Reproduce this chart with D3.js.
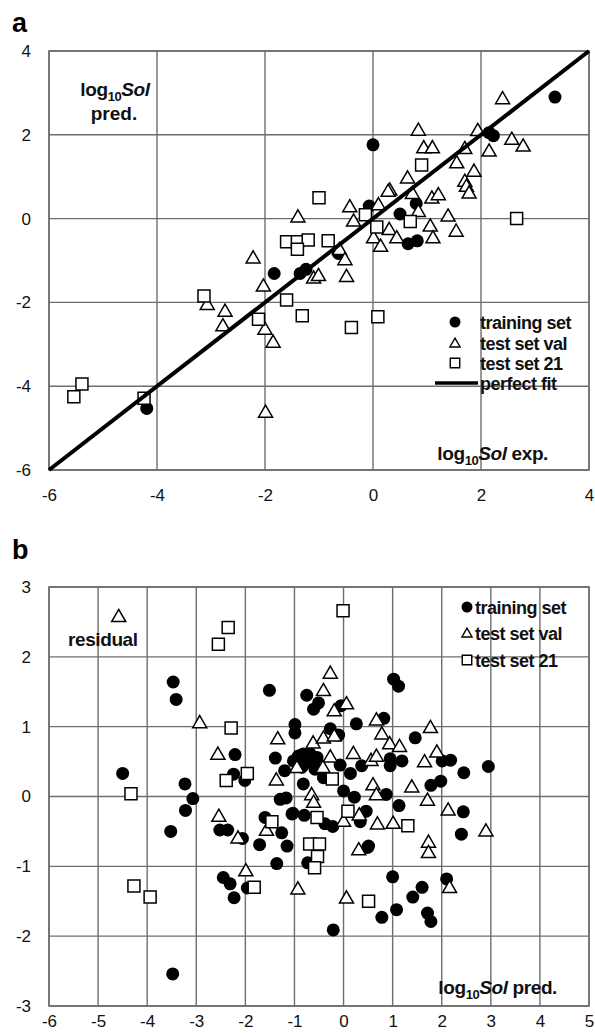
<!DOCTYPE html>
<html>
<head>
<meta charset="utf-8">
<script src="https://cdn.jsdelivr.net/npm/d3@7"></script>
<style>
  html, body { margin: 0; padding: 0; background: #fff; }
  svg { display: block; }
  text { font-family: "Liberation Sans", Arial, sans-serif; }
</style>
</head>
<body>
<svg id="chart" width="595" height="1033"></svg>
<script>
// ---------- Panel a data: log10Sol exp. (x) vs log10Sol pred. (y) ----------
const aTrainX = [3.37, 0.0, 2.23, 2.15, -0.07, 0.5, 0.8, 0.65, 0.82, -0.64, -1.35, -1.24, -1.83, -4.19];
const aTrainY = [2.9, 1.76, 1.98, 2.05, 0.3, 0.11, 0.36, -0.6, -0.53, -0.83, -1.31, -1.21, -1.31, -4.53];

const aValX = [2.40, 0.84, 1.94, 0.94, 1.10, 2.57, 2.78, 2.15, 1.70, 1.55, 1.87, 1.70, 1.73, 1.78, 0.64, 0.31, 0.73, 1.09, 1.21, -0.43, 0.10, -0.36, 0.84, 1.39, 1.54, 1.06, 1.11, 0.30, 0.44, 0.01, 0.14, -0.62, -1.39, -2.22, -2.03, 0.28, -0.52, -0.49, -1.10, -1.01, -2.74, -2.0, -2.78, -3.07, -1.85, -1.99];
const aValY = [2.85, 2.10, 2.09, 1.68, 1.68, 1.88, 1.72, 1.60, 1.66, 1.32, 1.12, 0.88, 0.76, 0.60, 0.96, 0.67, 0.59, 0.48, 0.56, 0.27, 0.32, -0.07, 0.16, 0.05, -0.31, -0.19, -0.47, -0.27, -0.47, -0.47, -0.67, -0.75, 0.03, -0.95, -1.62, 0.64, -0.99, -1.39, -1.43, -1.37, -2.22, -2.65, -2.57, -2.06, -2.96, -4.63];

const a21X = [0.90, 2.66, 0.69, 0.07, -0.14, -1.0, -1.6, -1.40, -1.2, -1.40, -0.83, -1.6, -1.31, -0.40, 0.09, -2.12, -3.13, -5.39, -5.54, -4.24];
const a21Y = [1.28, 0.0, -0.07, -0.2, 0.09, 0.5, -0.55, -0.55, -0.51, -0.73, -0.53, -1.94, -2.32, -2.6, -2.34, -2.40, -1.85, -3.95, -4.25, -4.29];

const aFitX = [-6, 4];
const aFitY = [-6, 4];
const aTicks = [-6, -4, -2, 0, 2, 4];

// ---------- Panel b data: log10Sol pred. (x) vs residual (y) ----------
const bTrainX = [-4.5, -3.47, -3.41, -3.23, -3.07, -3.22, -3.52, -3.48, -2.21, -2.24, -2.01, -2.52, -2.36, -2.06, -1.71, -2.45, -2.31, -2.23, -1.96, -1.51, -1.39, -1.2, -1.02, -1.29, -1.17, -1.03, -1.6, -1.26, -1.15, -1.36, -0.99, -0.99, -0.75, -0.61, -0.51, -0.05, 0.26, -0.27, -0.1, -0.92, -0.82, -0.68, -0.54, -0.75, -0.61, -0.85, -0.58, -0.07, 0.14, 0.37, -0.41, -0.82, 0.0, 0.22, -1.05, -0.8, -0.38, -0.22, 0.34, 0.46, 0.51, -0.73, 0.82, 1.46, 1.02, 1.12, 2.01, 2.18, 2.45, 2.95, 1.78, 1.98, 0.95, 1.19, 0.95, 0.87, 1.13, 2.44, 2.4, 0.49, 1.0, 2.1, 1.6, 1.41, 1.08, 0.78, 1.71, 1.78, -0.21];
const bTrainY = [0.33, 1.64, 1.39, 0.18, -0.03, -0.2, -0.5, -2.54, 0.6, 0.32, 0.23, -0.48, -0.48, -0.6, -0.69, -1.16, -1.25, -1.45, -1.31, 1.52, 0.55, 0.37, 0.51, -0.04, -0.02, -0.24, -0.3, -0.52, -0.71, -0.96, 1.03, 0.91, 1.45, 1.25, 1.34, 1.3, 1.04, 0.97, 0.88, 0.58, 0.61, 0.61, 0.56, 0.49, 0.46, 0.42, 0.39, 0.45, 0.33, 0.44, 0.27, 0.18, 0.08, -0.01, -0.25, -0.27, -0.39, -0.43, -0.36, -0.21, -0.71, -0.95, 1.12, 0.84, 1.68, 1.58, 0.51, 0.52, 0.34, 0.43, 0.16, 0.22, 0.54, 0.51, 0.44, 0.03, -0.13, -0.22, -0.54, -0.73, -1.15, -1.18, -1.3, -1.44, -1.62, -1.73, -1.67, -1.79, -1.91];

const bValX = [-4.58, -2.93, -1.34, -2.56, -2.54, -2.15, -1.99, -1.57, -1.37, -0.93, -0.27, -0.41, -0.19, 0.06, 0.67, -0.62, -0.41, -0.19, 0.2, -0.27, 0.56, 0.67, -0.95, -0.42, -0.65, -0.61, 0.0, 0.32, 0.31, 0.06, 0.6, 0.67, 0.69, 1.77, 0.78, 0.94, 1.14, 1.9, 1.65, 1.39, 1.71, 2.13, 2.9, 1.01, 1.73, 1.73, 2.16];
const bValY = [2.57, 1.05, 0.82, 0.6, -0.29, -0.6, -1.07, -0.49, 0.23, -1.33, 1.76, 1.51, 1.22, 1.32, 1.09, 0.76, 0.83, 0.86, 0.61, 0.56, 0.51, 0.57, 0.41, 0.41, 0.02, -0.09, -0.36, -0.27, -0.77, -1.46, 0.16, 0.02, -0.4, 0.98, 0.89, 0.75, 0.71, 0.63, 0.49, 0.13, -0.06, -0.2, -0.5, -0.39, -0.66, -0.81, -1.31];

const b21X = [-2.55, -2.35, -2.29, -4.33, -4.27, -3.94, -2.39, -1.96, -1.82, -1.46, -0.01, -0.23, -0.54, 0.09, -0.69, -0.49, -0.53, -0.59, 0.51, 1.31];
const b21Y = [2.18, 2.42, 0.98, 0.04, -1.28, -1.44, 0.23, 0.33, -1.3, -0.36, 2.66, 0.25, -0.3, -0.21, -0.68, -0.68, -0.86, -1.02, -1.5, -0.42];

const bXTicks = [-6, -5, -4, -3, -2, -1, 0, 1, 2, 3, 4, 5];
const bYTicks = [-3, -2, -1, 0, 1, 2, 3];

const legendA = ["training set", "test set val", "test set 21", "perfect fit"];
const legendB = ["training set", "test set val", "test set 21"];

// ---------- drawing ----------
const svg = d3.select("#chart");
svg.append("rect").attr("width", 595).attr("height", 1033).attr("fill", "#fff");

const GRID = "#6e6e6e";
const zip = (xs, ys) => xs.map((x, i) => [x, ys[i]]);

function panel(g, x, y, xTicks, yTicks, xPad) {
  const [x0, x1] = x.range();
  const [y0, y1] = y.range();
  g.append("g").selectAll("line").data(xTicks).join("line")
    .attr("x1", d => x(d)).attr("x2", d => x(d)).attr("y1", y1).attr("y2", y0)
    .attr("stroke", GRID).attr("stroke-width", 1.4);
  g.append("g").selectAll("line").data(yTicks).join("line")
    .attr("x1", x0).attr("x2", x1).attr("y1", d => y(d)).attr("y2", d => y(d))
    .attr("stroke", GRID).attr("stroke-width", 1.4);
  g.append("rect").attr("x", x0).attr("y", y1).attr("width", x1 - x0).attr("height", y0 - y1)
    .attr("fill", "none").attr("stroke", GRID).attr("stroke-width", 1.6);
  const ax = g.append("g").attr("transform", `translate(0,${y0})`)
    .call(d3.axisBottom(x).tickValues(xTicks).tickSize(0).tickPadding(xPad).tickFormat(d => String(d)));
  const ay = g.append("g").attr("transform", `translate(${x0},0)`)
    .call(d3.axisLeft(y).tickValues(yTicks).tickSize(0).tickPadding(18).tickFormat(d => String(d)));
  [ax, ay].forEach(a => {
    a.select(".domain").remove();
    a.selectAll("text").attr("font-size", 17).attr("fill", "#111")
      .style("font-family", '"Liberation Sans", Arial, sans-serif');
  });
}

const triSym = d3.symbol().type(d3.symbolTriangle);
const sqSym = d3.symbol().type(d3.symbolSquare);

function markers(g, x, y, pts, kind, size) {
  if (kind === "circle") {
    g.append("g").selectAll("circle").data(pts).join("circle")
      .attr("cx", d => x(d[0])).attr("cy", d => y(d[1])).attr("r", size).attr("fill", "#000");
  } else {
    const sym = kind === "tri" ? triSym.size(size) : sqSym.size(size);
    const p = sym();
    g.append("g").selectAll("path").data(pts).join("path")
      .attr("d", p)
      .attr("transform", d => `translate(${x(d[0])},${y(d[1]) + (kind === "tri" ? 0.5 : 0)})`)
      .attr("fill", "#fff").attr("stroke", "#000").attr("stroke-width", 1.5);
  }
}

function logLabel(g, xx, yy, suffix, anchor) {
  const t = g.append("text").attr("x", xx).attr("y", yy).attr("font-size", 19)
    .attr("font-weight", "bold").attr("text-anchor", anchor).attr("fill", "#111")
    .attr("letter-spacing", "-0.4");
  t.append("tspan").text("log");
  t.append("tspan").attr("font-size", 13).attr("dy", 5).text("10");
  t.append("tspan").attr("font-style", "italic").attr("dy", -5).text("Sol");
  if (suffix) t.append("tspan").text(suffix);
  return t;
}

// ----- Panel a -----
const xA = d3.scaleLinear().domain([-6, 4]).range([49, 589]);
const yA = d3.scaleLinear().domain([-6, 4]).range([470, 51]);
const gA = svg.append("g");
panel(gA, xA, yA, aTicks, aTicks, 19);

markers(gA, xA, yA, zip(aTrainX, aTrainY), "circle", 6.5);
markers(gA, xA, yA, zip(aValX, aValY), "tri", 85);
markers(gA, xA, yA, zip(a21X, a21Y), "sq", 144);
gA.append("path").datum(zip(aFitX, aFitY))
  .attr("d", d3.line().x(d => xA(d[0])).y(d => yA(d[1])))
  .attr("stroke", "#000").attr("stroke-width", 4).attr("fill", "none");

gA.append("text").attr("x", 12).attr("y", 32).attr("font-size", 27).attr("font-weight", "bold").text("a");
logLabel(gA, 115, 96, "", "middle");
gA.append("text").attr("x", 114).attr("y", 120).attr("font-size", 19).attr("font-weight", "bold")
  .attr("text-anchor", "middle").attr("fill", "#111").text("pred.");
logLabel(gA, 548, 460, " exp.", "end");

const legAY = [322, 343, 363, 383];
const legA = gA.append("g");
legA.append("circle").attr("cx", 455).attr("cy", legAY[0]).attr("r", 5.5).attr("fill", "#000");
legA.append("path").attr("d", triSym.size(45)()).attr("transform", `translate(455,${legAY[1] + 1})`)
  .attr("fill", "#fff").attr("stroke", "#000").attr("stroke-width", 1.4);
legA.append("path").attr("d", sqSym.size(90)()).attr("transform", `translate(455,${legAY[2]})`)
  .attr("fill", "#fff").attr("stroke", "#000").attr("stroke-width", 1.4);
legA.append("line").attr("x1", 435).attr("x2", 478).attr("y1", legAY[3]).attr("y2", legAY[3])
  .attr("stroke", "#000").attr("stroke-width", 3.5);
legA.selectAll("text").data(legendA).join("text")
  .attr("x", 480).attr("y", (d, i) => legAY[i] + 6.5).attr("font-size", 18).attr("font-weight", "bold")
  .attr("letter-spacing", "-0.5").attr("fill", "#111").text(d => d);

// ----- Panel b -----
const xB = d3.scaleLinear().domain([-6, 5]).range([49, 589]);
const yB = d3.scaleLinear().domain([-3, 3]).range([1006, 587]);
const gB = svg.append("g");
panel(gB, xB, yB, bXTicks, bYTicks, 9);

markers(gB, xB, yB, zip(bTrainX, bTrainY), "circle", 6.5);
markers(gB, xB, yB, zip(bValX, bValY), "tri", 85);
markers(gB, xB, yB, zip(b21X, b21Y), "sq", 144);

gB.append("text").attr("x", 12).attr("y", 559).attr("font-size", 27).attr("font-weight", "bold").text("b");
gB.append("text").attr("x", 68).attr("y", 646).attr("font-size", 19).attr("font-weight", "bold")
  .attr("letter-spacing", "-0.4").attr("fill", "#111").text("residual");
logLabel(gB, 557, 994, " pred.", "end");

const legBY = [607, 633, 660];
const legB = gB.append("g");
legB.append("circle").attr("cx", 467).attr("cy", legBY[0]).attr("r", 5.5).attr("fill", "#000");
legB.append("path").attr("d", triSym.size(45)()).attr("transform", `translate(467,${legBY[1] + 1})`)
  .attr("fill", "#fff").attr("stroke", "#000").attr("stroke-width", 1.4);
legB.append("path").attr("d", sqSym.size(90)()).attr("transform", `translate(467,${legBY[2]})`)
  .attr("fill", "#fff").attr("stroke", "#000").attr("stroke-width", 1.4);
legB.selectAll("text").data(legendB).join("text")
  .attr("x", 475).attr("y", (d, i) => legBY[i] + 6.5).attr("font-size", 18).attr("font-weight", "bold")
  .attr("letter-spacing", "-0.5").attr("fill", "#111").text(d => d);
</script>
</body>
</html>
